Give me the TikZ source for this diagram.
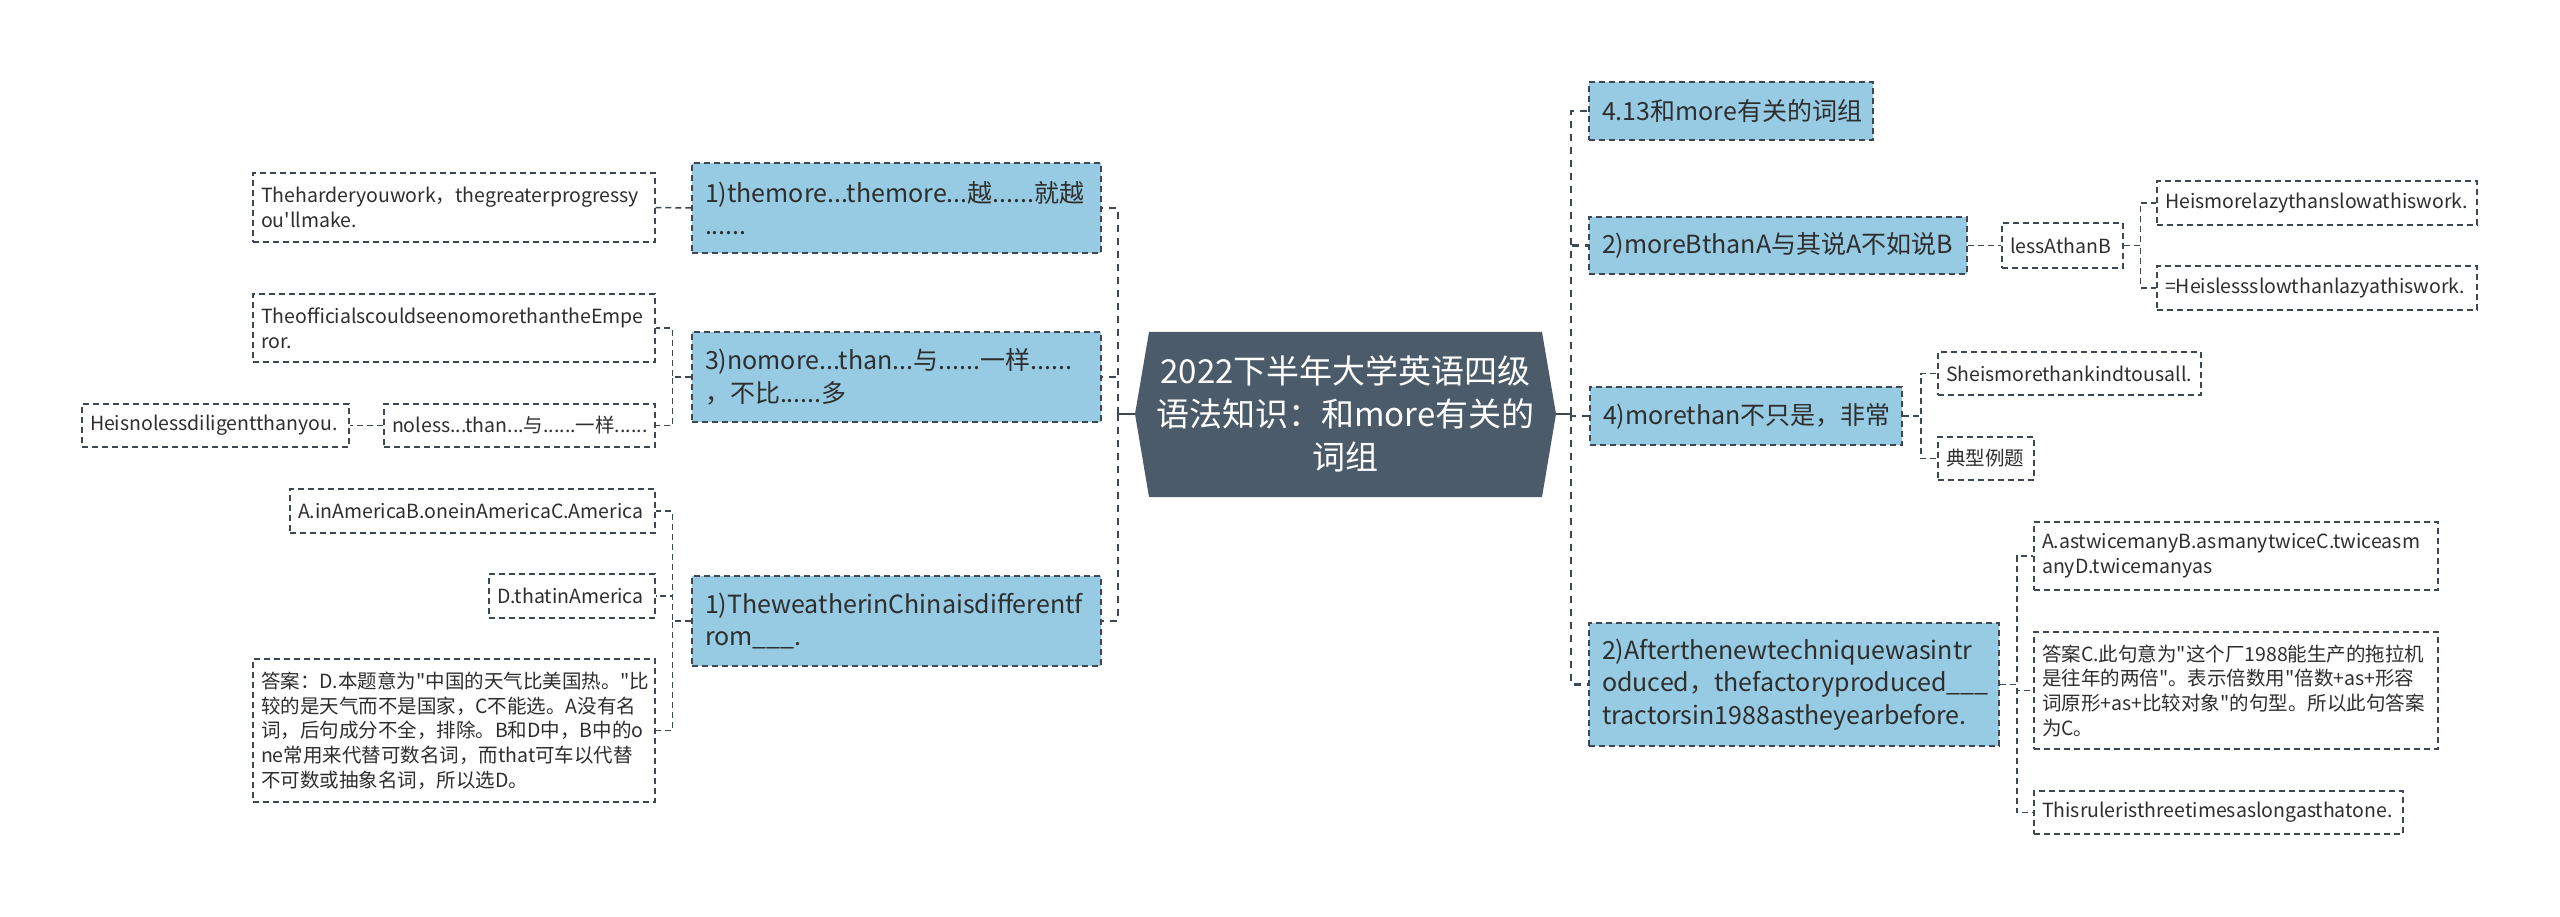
\documentclass[tikz,border=0pt]{standalone}
\usepackage{fontspec}
\setmainfont{Noto Sans CJK SC}[Ligatures=TeXOff]
\definecolor{rootfill}{HTML}{4B5B6A}
\definecolor{bluefill}{HTML}{97CBE3}
\definecolor{edgec}{HTML}{3D4852}
\definecolor{txt}{HTML}{2E2E2E}
\tikzset{
  lvone/.style={draw=edgec, fill=bluefill, line width=1.5pt, dash pattern=on 6pt off 4pt,
    inner xsep=13pt, inner ysep=0pt, align=left, font=\fontsize{25}{32.5}\selectfont, text=txt},
  leaf/.style={draw=edgec, fill=white, line width=1.3pt, dash pattern=on 6pt off 4pt,
    inner xsep=8pt, inner ysep=0pt, align=left, font=\fontsize{19.5}{24.7}\selectfont, text=txt},
  roottext/.style={align=center, text=white, inner sep=0pt, font=\fontsize{33}{43}\selectfont},
  mainconn/.style={draw=edgec, line width=2.5pt, dash pattern=on 7pt off 6pt},
  subconn/.style={draw=edgec, line width=1.5pt, dash pattern=on 6pt off 4pt},
  rootconn/.style={draw=edgec, line width=2.5pt},
}
\begin{document}
\begin{tikzpicture}[x=1pt,y=-1pt]
\path[use as bounding box, fill=white] (0,0) rectangle (2560,917);

% root
\fill[rootfill] (1149,332) -- (1542,332) -- (1556,414) -- (1542,497) -- (1149,497) -- (1135,414) -- cycle;
\node[roottext] (root) at (1345.5,414) {2022下半年大学英语四级\\语法知识：和more有关的\\词组};
\coordinate (rootL) at (1135,414);
\coordinate (rootR) at (1556,414);
\coordinate (spL) at (1118,414);
\coordinate (spR) at (1571,414);

% left level one
\node[lvone, text width=383pt, minimum height=90pt] (L1) at (896.5,208) {1)themore...themore...越......就越\\......};
\node[lvone, text width=383pt, minimum height=90pt] (L3) at (896.5,377) {3)nomore...than...与......一样......\\，不比......多};
\node[lvone, text width=383pt, minimum height=90pt] (L1w) at (896.5,621) {1)TheweatherinChinaisdifferentf\\rom\_\_\_.};

% right level one
\node[lvone, text width=258pt, minimum height=58pt] (R413) at (1731,111) {4.13和more有关的词组};
\node[lvone, text width=352pt, minimum height=57pt] (R2m) at (1778,245.5) {2)moreBthanA与其说A不如说B};
\node[lvone, text width=286pt, minimum height=58pt] (R4m) at (1746,416) {4)morethan不只是，非常};
\node[lvone, text width=384pt, minimum height=123pt] (R2a) at (1794,684.5) {2)Afterthenewtechniquewasintr\\oduced，thefactoryproduced\_\_\_\\tractorsin1988astheyearbefore.};

% left leaves
\node[leaf, text width=386pt, minimum height=69pt] (Lh) at (454,207.5) {Theharderyouwork，thegreaterprogressy\\ou'llmake.};
\node[leaf, text width=386pt, minimum height=68pt] (Lo) at (454,328) {TheofficialscouldseenomorethantheEmpe\\ror.};
\node[leaf, text width=255pt, minimum height=43pt] (Ln) at (519.5,425.5) {noless...than...与......一样......};
\node[leaf, text width=251pt, minimum height=43pt] (Lhn) at (215.5,425.5) {Heisnolessdiligentthanyou.};
\node[leaf, text width=349pt, minimum height=44pt] (La) at (472.5,511) {A.inAmericaB.oneinAmericaC.America};
\node[leaf, text width=150pt, minimum height=44pt] (Ld) at (572,596) {D.thatinAmerica};
\node[leaf, text width=386pt, minimum height=143pt] (Lans) at (454,730.5) {答案：D.本题意为"中国的天气比美国热。"比\\较的是天气而不是国家，C不能选。A没有名\\词，后句成分不全，排除。B和D中，B中的o\\ne常用来代替可数名词，而that可车以代替\\不可数或抽象名词，所以选D。};

% right leaves
\node[leaf, text width=105pt, minimum height=45pt] (Rl) at (2062.5,245.5) {lessAthanB};
\node[leaf, text width=304pt, minimum height=44pt] (Rhm) at (2317,203) {Heismorelazythanslowathiswork.};
\node[leaf, text width=304pt, minimum height=44pt] (Rhl) at (2317,288) {=Heislessslowthanlazyathiswork.};
\node[leaf, text width=247pt, minimum height=43pt] (Rs) at (2069.5,373.5) {Sheismorethankindtousall.};
\node[leaf, text width=80pt, minimum height=43pt] (Rd) at (1986,458.5) {典型例题};
\node[leaf, text width=388pt, minimum height=68pt] (Raa) at (2236,556) {A.astwicemanyB.asmanytwiceC.twiceasm\\anyD.twicemanyas};
\node[leaf, text width=388pt, minimum height=117pt] (Rac) at (2236,690.5) {答案C.此句意为"这个厂1988能生产的拖拉机\\是往年的两倍"。表示倍数用"倍数+as+形容\\词原形+as+比较对象"的句型。所以此句答案\\为C。};
\node[leaf, text width=353pt, minimum height=43pt] (Rt) at (2218.5,812.5) {Thisruleristhreetimesaslongasthatone.};

% root connectors
\draw[rootconn] (rootL) -- (spL);
\draw[rootconn] (rootR) -- (spR);
\draw[mainconn] (spL) |- (L1.east);
\draw[mainconn] (spL) |- (L3.east);
\draw[mainconn] (spL) |- (L1w.east);
\draw[mainconn] (spR) |- (R413.west);
\draw[mainconn] (spR) |- (R2m.west);
\draw[mainconn] (spR) |- (R4m.west);
\draw[mainconn] (spR) |- (R2a.west);

% left sub connectors
\draw[subconn] (L1.west) -- (Lh.east);
\draw[subconn] (L3.west) -- ++(-19,0) |- (Lo.east);
\draw[subconn] (L3.west) -- ++(-19,0) |- (Ln.east);
\draw[subconn] (Ln.west) -- (Lhn.east);
\draw[subconn] (L1w.west) -- ++(-19,0) |- (La.east);
\draw[subconn] (L1w.west) -- ++(-19,0) |- (Ld.east);
\draw[subconn] (L1w.west) -- ++(-19,0) |- (Lans.east);

% right sub connectors
\draw[subconn] (R2m.east) -- (Rl.west);
\draw[subconn] (Rl.east) -- ++(17,0) |- (Rhm.west);
\draw[subconn] (Rl.east) -- ++(17,0) |- (Rhl.west);
\draw[subconn] (R4m.east) -- ++(18,0) |- (Rs.west);
\draw[subconn] (R4m.east) -- ++(18,0) |- (Rd.west);
\draw[subconn] (R2a.east) -- ++(17,0) |- (Raa.west);
\draw[subconn] (R2a.east) -- ++(17,0) |- (Rac.west);
\draw[subconn] (R2a.east) -- ++(17,0) |- (Rt.west);
\end{tikzpicture}
\end{document}
